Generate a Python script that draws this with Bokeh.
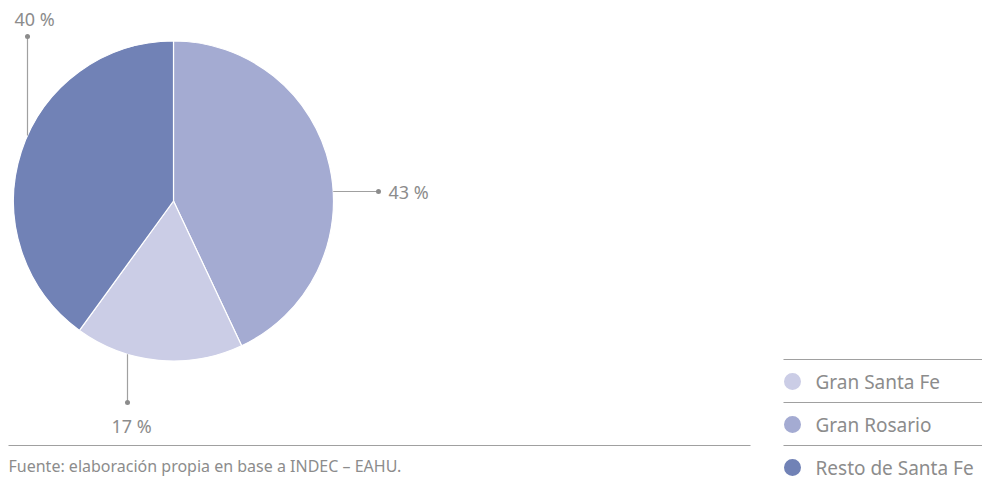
import math
from bokeh.plotting import figure
from bokeh.models import Range1d
from bokeh.core.properties import value
from bokeh.embed import file_html
from bokeh.resources import INLINE

# ---- data ----
categories = ["Gran Santa Fe", "Gran Rosario", "Resto de Santa Fe"]
values = [17, 43, 40]
colors = ["#cbcde6", "#a4abd2", "#7182b6"]
pie_order = ["Gran Rosario", "Gran Santa Fe", "Resto de Santa Fe"]  # clockwise from top
source_text = "Fuente: elaboración propia en base a INDEC – EAHU."

W, H = 982, 481
FONT = value("Noto Sans")
GREY = "#8c8c8c"
LINE = "#a0a0a0"

DY_TOP = -4     # vertical shift for pie area
DY_BOT = -18    # vertical shift for legend/source area

def sx(x):
    return x

def sy(y, dy=DY_TOP):
    return H - (y + dy)

p = figure(width=W, height=H, output_backend="svg", toolbar_location=None,
           x_range=Range1d(0, W), y_range=Range1d(0, H), min_border=0)
p.axis.visible = False
p.grid.visible = False
p.outline_line_color = None
p.background_fill_color = "white"

# ---- pie ----
cx, cy, r = 173, 204.5, 160
total = sum(values)
cum = 0.0
starts, ends, cols = [], [], []
for name in pie_order:
    i = categories.index(name)
    v = values[i]
    a0 = math.pi / 2 - 2 * math.pi * cum / total
    cum += v
    a1 = math.pi / 2 - 2 * math.pi * cum / total
    starts.append(a0)
    ends.append(a1)
    cols.append(colors[i])
p.wedge(x=[sx(cx)] * 3, y=[sy(cy)] * 3, radius=r, radius_units="screen",
        start_angle=starts, end_angle=ends, direction="clock",
        fill_color=cols, line_color="white", line_width=1.2)

# ---- data labels with leader lines ----
def edge_y(x, sign):
    return cy + sign * math.sqrt(r * r - (x - cx) ** 2)

lab_lines = []
yR = 195
xe = cx + math.sqrt(r * r - (yR - cy) ** 2)
lab_lines.append(((xe, yR), (378, yR)))
xT = 27
lab_lines.append(((xT, edge_y(xT, -1)), (xT, 40)))
xB = 127
lab_lines.append(((xB, edge_y(xB, 1)), (xB, 406)))
for (a, b) in lab_lines:
    p.line([sx(a[0]), sx(b[0])], [sy(a[1]), sy(b[1])], line_color=LINE, line_width=1.2)
    p.scatter([sx(b[0])], [sy(b[1])], size=5, fill_color="#8c8c8c", line_color=None)

def lbl(name):
    return f"{values[categories.index(name)]} %"

p.text(x=[sx(388)], y=[sy(195)], text=[lbl("Gran Rosario")], text_font=FONT,
       text_font_size="18px", text_color=GREY, text_baseline="middle", text_align="left")
p.text(x=[sx(34)], y=[sy(22)], text=[lbl("Resto de Santa Fe")], text_font=FONT,
       text_font_size="18px", text_color=GREY, text_baseline="middle", text_align="center")
p.text(x=[sx(131)], y=[sy(429)], text=[lbl("Gran Santa Fe")], text_font=FONT,
       text_font_size="18px", text_color=GREY, text_baseline="middle", text_align="center")

# ---- source ----
p.line([sx(8), sx(750)], [sy(463, DY_BOT), sy(463, DY_BOT)], line_color=LINE, line_width=1.2)
p.text(x=[sx(8)], y=[sy(483, DY_BOT)], text=[source_text], text_font=FONT,
       text_font_size="16px", text_color=GREY, text_baseline="middle", text_align="left")

# ---- legend ----
ly0 = 377
step = 43
for k, name in enumerate(categories):
    yl = ly0 + k * step
    p.line([sx(783), sx(W)], [sy(yl, DY_BOT), sy(yl, DY_BOT)], line_color=LINE, line_width=1.2)
    yc = yl + 22
    p.scatter([sx(792)], [sy(yc, DY_BOT)], size=17, fill_color=colors[k], line_color=None)
    p.text(x=[sx(815)], y=[sy(yc, DY_BOT)], text=[name], text_font=FONT,
           text_font_size="19px", text_color=GREY, text_baseline="middle", text_align="left")

open("out.html", "w").write(file_html(p, INLINE))
